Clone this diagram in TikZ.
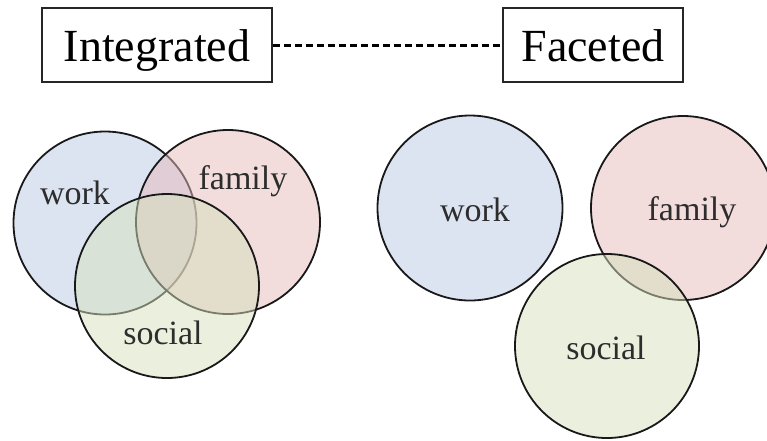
\documentclass[tikz,border=0pt]{standalone}
\usepackage{fontspec}
\setmainfont{Liberation Serif}
\definecolor{wblue}{RGB}{185,199,227}
\definecolor{fpink}{RGB}{229,185,185}
\definecolor{sgreen}{RGB}{213,225,187}
\definecolor{lbl}{RGB}{45,45,45}
\tikzset{
  titlebox/.style={draw=black!85, line width=1.8pt, rectangle, minimum height=74pt,
    inner sep=0pt, text height=32pt, text depth=0pt, font=\fontsize{46}{46}\selectfont},
  setcirc/.style={circle, draw=black!90, line width=1.8pt, fill opacity=0.5, inner sep=0pt},
  setlbl/.style={anchor=base, text=lbl, inner sep=0pt, font=\fontsize{34}{34}\selectfont},
  link/.style={draw=black, line width=3pt, dash pattern=on 7pt off 4pt}
}
\begin{document}
\begin{tikzpicture}[x=1pt,y=-1pt]
\useasboundingbox (0,0) rectangle (767,440);
% title boxes
\node[titlebox, minimum width=230pt] (integ) at (157,45) {Integrated};
\node[titlebox, minimum width=180pt] (facet) at (593,45) {Faceted};
\draw[link] (integ.east) -- (facet.west);
% integrated venn
\node[setcirc, fill=wblue, minimum size=183pt] (iwork) at (105,223) {};
\node[setcirc, fill=fpink, minimum size=184pt] (ifamily) at (228,222) {};
\node[setcirc, fill=sgreen, minimum size=184pt] (isocial) at (167,286) {};
\node[setlbl] (iworkl) at (75,204) {work};
\node[setlbl] (ifamilyl) at (243,189) {family};
\node[setlbl] (isociall) at (163,344) {social};
% faceted
\node[setcirc, fill=wblue, minimum size=185pt] (fwork) at (470,208) {};
\node[setcirc, fill=fpink, minimum size=184pt] (ffamily) at (683,208) {};
\node[setcirc, fill=sgreen, minimum size=184pt] (fsocial) at (607,346) {};
\node[setlbl] (fworkl) at (475,221) {work};
\node[setlbl] (ffamilyl) at (692,220) {family};
\node[setlbl] (fsociall) at (606,359) {social};
\end{tikzpicture}
\end{document}
